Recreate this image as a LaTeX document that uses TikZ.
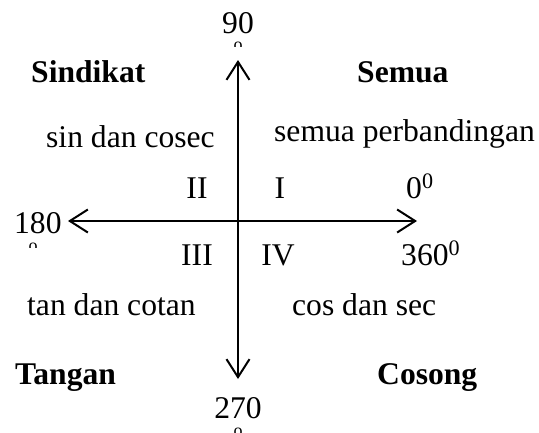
\documentclass[tikz,border=0pt]{standalone}
\usepackage{fontspec}
\setmainfont{Liberation Serif}
\usetikzlibrary{arrows.meta}
\tikzset{
  lbl/.style={inner sep=0pt, font=\fontsize{31.6}{36}\selectfont},
  blbl/.style={lbl, font=\fontsize{31.6}{36}\selectfont\bfseries},
  degmark/.style={inner sep=0pt, font=\fontsize{18}{22}\selectfont},
  axis/.style={line width=2pt, {Straight Barb[length=18pt,width=23pt]}-{Straight Barb[length=18pt,width=23pt]}}
}
\begin{document}
\begin{tikzpicture}[x=1pt,y=-1pt]
\useasboundingbox (0,0) rectangle (539,432);
% axes
\coordinate (top) at (238,60);
\coordinate (bot) at (238,379);
\coordinate (left) at (68,221);
\coordinate (right) at (417,221);
\draw[axis] (bot) -- (top);
\draw[axis] (left) -- (right);
% angle labels
\node[lbl, anchor=base] (n90) at (238,33) {90};
\node[lbl, anchor=base west] (n180) at (14,233) {180};
\node[lbl, anchor=base] (n270) at (238,418) {270};
\node[lbl, anchor=base west] (n0) at (406,198) {0\textsuperscript{0}};
\node[lbl, anchor=base west] (n360) at (401,265) {360\textsuperscript{0}};
% clipped degree marks
\begin{scope}
\clip (228,41) rectangle (248,46.5);
\node[degmark, anchor=north] (d90) at (238,42) {o};
\end{scope}
\begin{scope}
\clip (23,242) rectangle (43,247.5);
\node[degmark, anchor=north] (d180) at (33,243) {o};
\end{scope}
\begin{scope}
\clip (228,427) rectangle (248,432);
\node[degmark, anchor=north] (d270) at (238,428) {o};
\end{scope}
% quadrant numbers
\node[lbl, anchor=base] (q2) at (197,198) {II};
\node[lbl, anchor=base] (q1) at (280,198) {I};
\node[lbl, anchor=base] (q3) at (197,265) {III};
\node[lbl, anchor=base] (q4) at (278,265) {IV};
% quadrant names
\node[blbl, anchor=base west] (sind) at (31,82) {Sindikat};
\node[blbl, anchor=base west] (semua) at (357,82) {Semua};
\node[blbl, anchor=base west] (tang) at (15,384) {Tangan};
\node[blbl, anchor=base west] (cos) at (377,384) {Cosong};
% ratios
\node[lbl, anchor=base west] (r2) at (46,147) {sin dan cosec};
\node[lbl, anchor=base west] (r1) at (274,141) {semua perbandingan};
\node[lbl, anchor=base west] (r3) at (27,315) {tan dan cotan};
\node[lbl, anchor=base west] (r4) at (292,315) {cos dan sec};
\end{tikzpicture}
\end{document}
